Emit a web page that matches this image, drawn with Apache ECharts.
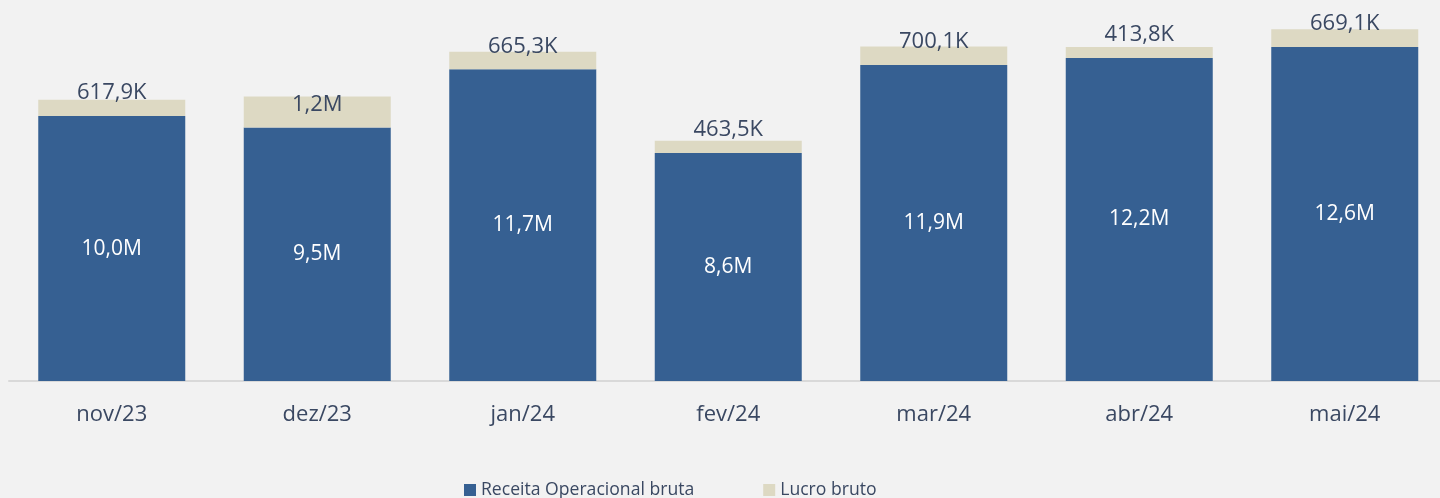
<!DOCTYPE html>
<html>
<head>
<meta charset="utf-8">
<script src="https://cdn.jsdelivr.net/npm/echarts@6/dist/echarts.min.js"></script>
<style>
    html, body { margin: 0; padding: 0; background: #f2f2f2; }
    #chart { width: 1440px; height: 498px; }
</style>
</head>
<body>
<div id="chart"></div>
<script>
// meses
const categories = ["nov/23", "dez/23", "jan/24", "fev/24", "mar/24", "abr/24", "mai/24"];
// valores em milhares (K)
const receita = [9970, 9540, 11730, 8580, 11890, 12160, 12570];
const lucro = [617.9, 1170, 665.3, 463.5, 700.1, 413.8, 669.1];

const textColor = "#3a4862";

// 617,9K / 1,2M
function fmt(v) {
    if (v >= 1000) {
        return (v / 1000).toFixed(1).replace(".", ",") + "M";
    }
    return v.toFixed(1).replace(".", ",") + "K";
}

const chart = echarts.init(document.getElementById("chart"));
const option = {
    backgroundColor: "#f2f2f2",
    animation: false,
    textStyle: { fontFamily: "Open Sans" },
    grid: {
        left: 9,
        width: 1438.5,
        top: 9,
        bottom: 117,
        outerBoundsMode: "none",
    },
    legend: {
        left: 459,
        top: 476,
        itemWidth: 12,
        itemHeight: 12,
        itemGap: 69,
        icon: "rect",
        textStyle: {
            color: textColor,
            fontSize: 17.6,
        },
        data: ["Receita Operacional bruta", "Lucro bruto"],
    },
    xAxis: {
        type: "category",
        data: categories,
        axisTick: { show: false },
        axisLine: {
            show: true,
            lineStyle: { color: "#d9d9d9", width: 2 },
        },
        axisLabel: {
            color: textColor,
            fontSize: 22,
            lineHeight: 22,
            margin: 23,
        },
    },
    yAxis: {
        type: "value",
        min: 0,
        max: 14000,
        show: false,
        splitLine: { show: false },
    },
    series: [
        {
            name: "Receita Operacional bruta",
            type: "bar",
            stack: "total",
            barWidth: 147,
            itemStyle: { color: "#366092" },
            label: {
                show: true,
                position: "inside",
                color: "#ffffff",
                fontSize: 21,
                formatter: (p) => fmt(p.value),
            },
            data: receita,
        },
        {
            name: "Lucro bruto",
            type: "bar",
            stack: "total",
            barWidth: 147,
            itemStyle: { color: "#ddd9c3" },
            label: {
                show: true,
                position: "insideBottom",
                distance: 12,
                color: textColor,
                fontSize: 22,
                lineHeight: 22,
                formatter: (p) => fmt(p.value),
            },
            data: lucro,
        },
    ],
};
chart.setOption(option);
window.addEventListener("resize", function () {
    chart.resize();
});
</script>
</body>
</html>
